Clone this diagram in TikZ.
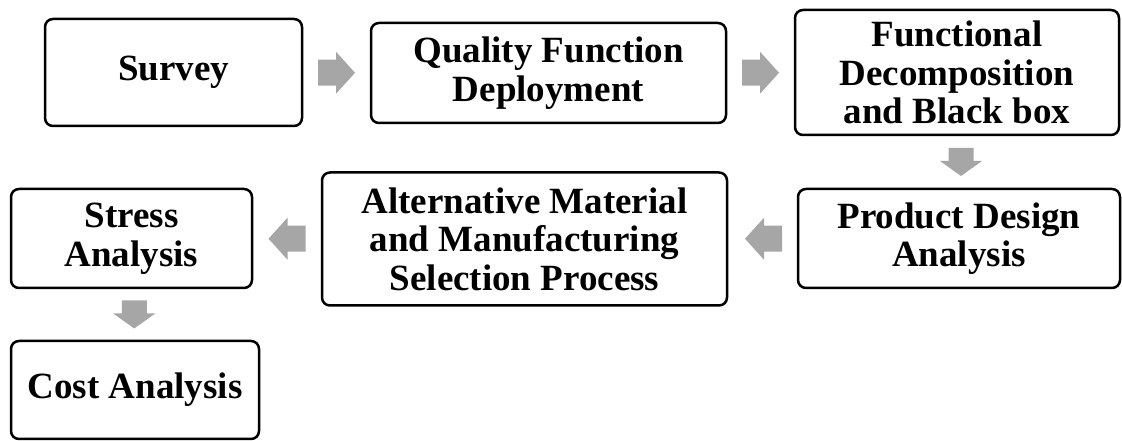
\documentclass[tikz,border=0pt]{standalone}
\usepackage{fontspec}
\setmainfont{Liberation Serif}
\usetikzlibrary{calc}
\definecolor{arrowgray}{HTML}{A6A6A6}
\tikzset{
  stage/.style={draw=black, line width=2.5pt, rounded corners=8pt, inner sep=0pt,
    align=center, font=\fontsize{37}{38.5}\selectfont\bfseries},
  flowarrow/.style={fill=arrowgray, draw=none},
}
% #1 centre, #2 angle, #3 half length, #4 head length, #5 shaft half width
\newcommand{\blockarrow}[5]{%
  \begin{scope}[shift={(#1)}, rotate=#2]
    \fill[flowarrow] (-#3,-#5) -- ({#3-#4},-#5) -- ({#3-#4},-21) -- (#3,0)
      -- ({#3-#4},21) -- ({#3-#4},#5) -- (-#3,#5) -- cycle;
  \end{scope}}
\begin{document}
\begin{tikzpicture}[x=1pt, y=1pt]
  \useasboundingbox (0,0) rectangle (1122,441);
  \node[stage, minimum width=257pt, minimum height=107pt] (survey) at (173.5,368.5) {Survey};
  \node[stage, minimum width=355pt, minimum height=100pt] (qfd) at (548.5,368) {Quality Function\\Deployment};
  \node[stage, minimum width=324pt, minimum height=125pt] (fd) at (957,368.5) {Functional\\Decomposition\\and Black box};
  \node[stage, minimum width=322pt, minimum height=99pt] (pda) at (959,202.5) {Product Design\\Analysis};
  \node[stage, minimum width=405pt, minimum height=133pt] (alt) at (524.5,202) {Alternative Material\\and Manufacturing\\Selection Process};
  \node[stage, minimum width=241pt, minimum height=99pt] (stress) at (131.5,202.5) {Stress\\Analysis};
  \node[stage, minimum width=248pt, minimum height=98pt] (cost) at (135,51) {Cost Analysis};

  \coordinate (m1) at ($(survey.east)!0.5!(qfd.west)$);
  \coordinate (m2) at ($(qfd.east)!0.5!(fd.west)$);
  \coordinate (m3) at ($(fd.south)!0.5!(pda.north)+(3,0)$);
  \coordinate (m4) at ($(pda.west)!0.5!(alt.east)+(1,0)$);
  \coordinate (m5) at ($(alt.west)!0.5!(stress.east)$);
  \coordinate (m6) at ($(stress.south)!0.5!(cost.north)+(1,0)$);

  \blockarrow{m1}{0}{18.5}{19}{13}
  \blockarrow{m2}{0}{18.5}{19}{13}
  \blockarrow{m3}{-90}{14}{15}{12.5}
  \blockarrow{m4}{180}{18.5}{19}{13}
  \blockarrow{m5}{180}{18.5}{19}{13}
  \blockarrow{m6}{-90}{14}{15}{12.5}
\end{tikzpicture}
\end{document}
